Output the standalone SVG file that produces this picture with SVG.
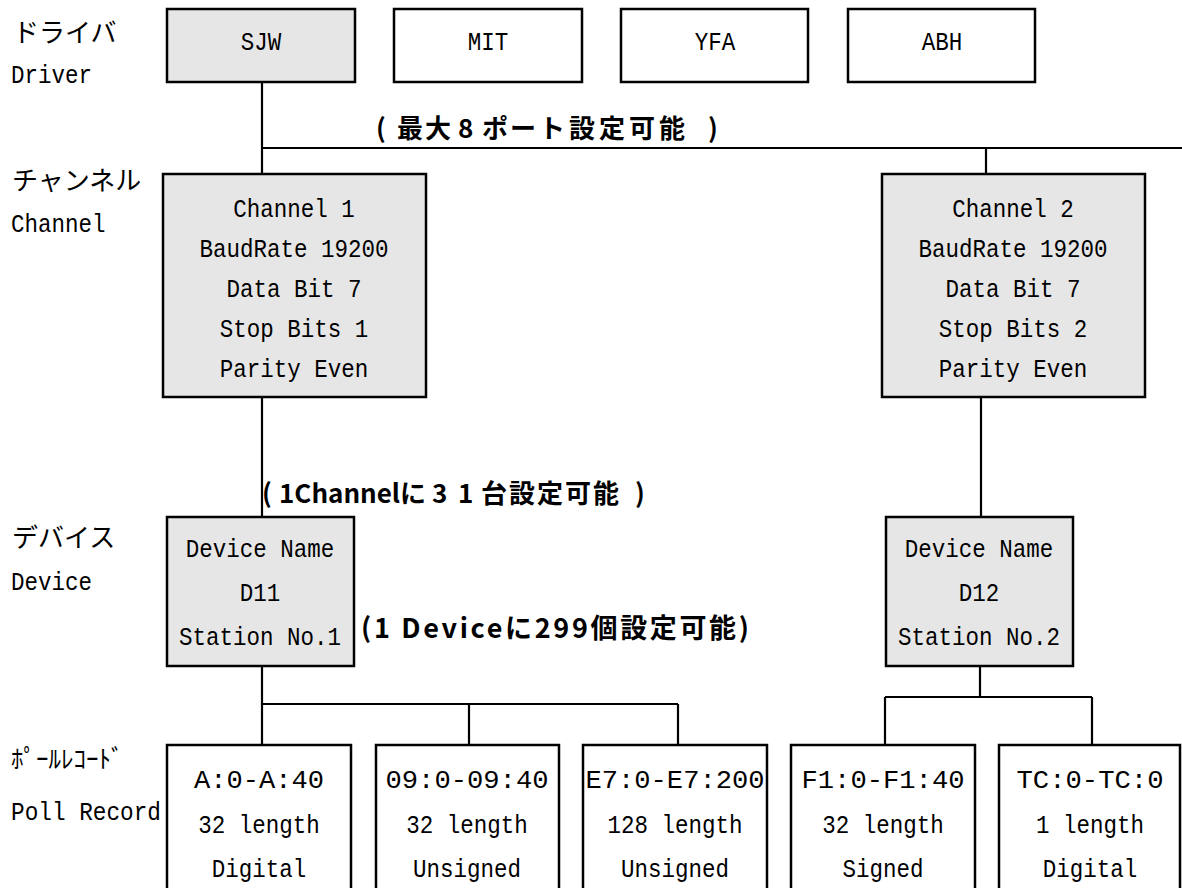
<svg xmlns="http://www.w3.org/2000/svg" width="1182" height="888" viewBox="0 0 1182 888">
<style>
.g{fill:#e6e6e6;stroke:#000;stroke-width:2.5}
.w{fill:#fff;stroke:#000;stroke-width:2.5}
.ln{fill:none;stroke:#000;stroke-width:2.2}
.t{font-family:"Liberation Mono","DejaVu Sans Mono",monospace;font-size:26px;fill:#000;text-anchor:middle}
.l{font-family:"Liberation Mono","DejaVu Sans Mono",monospace;font-size:26px;fill:#000}
.jp{font-family:"Noto Sans CJK JP",sans-serif;font-size:26px;fill:#000}
.b{font-family:"Noto Sans CJK JP",sans-serif;font-weight:bold;font-size:26px;fill:#000}
</style>
<rect width="1182" height="888" fill="#fff"/>
<g id="connectors">
<path class="ln" d="M262 82V174M262 148H1182M986 148V174M262 397V517M981 397V517M262 666V745M262 704H678M469 704V745M678 704V745M980 666V697M885 697H1092M885 697V745M1092 697V745"/>
</g>
<g id="level-labels">
<text class="jp" x="13" y="42">ドライバ</text>
<text class="l" x="11" y="83" textLength="81" lengthAdjust="spacingAndGlyphs">Driver</text>
<text class="jp" x="12" y="190">チャンネル</text>
<text class="l" x="11" y="232" textLength="94.5" lengthAdjust="spacingAndGlyphs">Channel</text>
<text class="jp" x="12" y="547">デバイス</text>
<text class="l" x="11" y="590" textLength="81" lengthAdjust="spacingAndGlyphs">Device</text>
<text class="jp" x="11" y="768" style="font-size:25px">ﾎﾟｰﾙﾚｺｰﾄﾞ</text>
<text class="l" x="11" y="820" textLength="150" lengthAdjust="spacingAndGlyphs">Poll Record</text>
</g>
<g id="notes">
<text class="b" x="376 397 425 458 482 510 539 569 599 629 659 708" y="138">(最大8ポート設定可能)</text>
<text class="b" y="503"><tspan x="262">(</tspan><tspan x="279">1Channel</tspan><tspan x="400 432 458 481 509 537 565 593 635">に31台設定可能)</tspan></text>
<text class="b" x="361" y="638" style="font-size:27px" textLength="388" lengthAdjust="spacing">(1 Deviceに299個設定可能)</text>
</g>
<g id="driver-SJW"><rect class="g" x="167" y="9" width="188" height="73"/><text class="t" x="261" y="50" textLength="40.5" lengthAdjust="spacingAndGlyphs">SJW</text></g>
<g id="driver-MIT"><rect class="w" x="394" y="9" width="188" height="73"/><text class="t" x="488" y="50" textLength="40.5" lengthAdjust="spacingAndGlyphs">MIT</text></g>
<g id="driver-YFA"><rect class="w" x="621" y="9" width="187" height="73"/><text class="t" x="715" y="50" textLength="40.5" lengthAdjust="spacingAndGlyphs">YFA</text></g>
<g id="driver-ABH"><rect class="w" x="848" y="9" width="187" height="73"/><text class="t" x="942" y="50" textLength="40.5" lengthAdjust="spacingAndGlyphs">ABH</text></g>
<g id="channel-1"><rect class="g" x="163" y="174" width="263" height="223"/>
<text class="t" x="294" y="217" textLength="121.5" lengthAdjust="spacingAndGlyphs">Channel 1</text>
<text class="t" x="294" y="257" textLength="189" lengthAdjust="spacingAndGlyphs">BaudRate 19200</text>
<text class="t" x="294" y="297" textLength="135" lengthAdjust="spacingAndGlyphs">Data Bit 7</text>
<text class="t" x="294" y="337" textLength="148.5" lengthAdjust="spacingAndGlyphs">Stop Bits 1</text>
<text class="t" x="294" y="377" textLength="148.5" lengthAdjust="spacingAndGlyphs">Parity Even</text></g>
<g id="channel-2"><rect class="g" x="882" y="174" width="263" height="223"/>
<text class="t" x="1013" y="217" textLength="121.5" lengthAdjust="spacingAndGlyphs">Channel 2</text>
<text class="t" x="1013" y="257" textLength="189" lengthAdjust="spacingAndGlyphs">BaudRate 19200</text>
<text class="t" x="1013" y="297" textLength="135" lengthAdjust="spacingAndGlyphs">Data Bit 7</text>
<text class="t" x="1013" y="337" textLength="148.5" lengthAdjust="spacingAndGlyphs">Stop Bits 2</text>
<text class="t" x="1013" y="377" textLength="148.5" lengthAdjust="spacingAndGlyphs">Parity Even</text></g>
<g id="device-D11"><rect class="g" x="167" y="517" width="187" height="149"/>
<text class="t" x="260" y="557" textLength="148.5" lengthAdjust="spacingAndGlyphs">Device Name</text>
<text class="t" x="260" y="601" textLength="40.5" lengthAdjust="spacingAndGlyphs">D11</text>
<text class="t" x="260" y="645" textLength="162" lengthAdjust="spacingAndGlyphs">Station No.1</text></g>
<g id="device-D12"><rect class="g" x="886" y="517" width="187" height="149"/>
<text class="t" x="979" y="557" textLength="148.5" lengthAdjust="spacingAndGlyphs">Device Name</text>
<text class="t" x="979" y="601" textLength="40.5" lengthAdjust="spacingAndGlyphs">D12</text>
<text class="t" x="979" y="645" textLength="162" lengthAdjust="spacingAndGlyphs">Station No.2</text></g>
<g id="poll-A"><rect class="w" x="167" y="745" width="184" height="160"/>
<text class="t" x="259" y="788" textLength="130" lengthAdjust="spacingAndGlyphs">A:0-A:40</text>
<text class="t" x="259" y="833" textLength="121.5" lengthAdjust="spacingAndGlyphs">32 length</text>
<text class="t" x="259" y="877" textLength="94.5" lengthAdjust="spacingAndGlyphs">Digital</text></g>
<g id="poll-09"><rect class="w" x="376" y="745" width="183" height="160"/>
<text class="t" x="467" y="788" textLength="163" lengthAdjust="spacingAndGlyphs">09:0-09:40</text>
<text class="t" x="467" y="833" textLength="121.5" lengthAdjust="spacingAndGlyphs">32 length</text>
<text class="t" x="467" y="877" textLength="108" lengthAdjust="spacingAndGlyphs">Unsigned</text></g>
<g id="poll-E7"><rect class="w" x="583" y="745" width="184" height="160"/>
<text class="t" x="675" y="788" textLength="179" lengthAdjust="spacingAndGlyphs">E7:0-E7:200</text>
<text class="t" x="675" y="833" textLength="135" lengthAdjust="spacingAndGlyphs">128 length</text>
<text class="t" x="675" y="877" textLength="108" lengthAdjust="spacingAndGlyphs">Unsigned</text></g>
<g id="poll-F1"><rect class="w" x="791" y="745" width="184" height="160"/>
<text class="t" x="883" y="788" textLength="163" lengthAdjust="spacingAndGlyphs">F1:0-F1:40</text>
<text class="t" x="883" y="833" textLength="121.5" lengthAdjust="spacingAndGlyphs">32 length</text>
<text class="t" x="883" y="877" textLength="81" lengthAdjust="spacingAndGlyphs">Signed</text></g>
<g id="poll-TC"><rect class="w" x="999" y="745" width="181" height="160"/>
<text class="t" x="1090" y="788" textLength="147" lengthAdjust="spacingAndGlyphs">TC:0-TC:0</text>
<text class="t" x="1090" y="833" textLength="108" lengthAdjust="spacingAndGlyphs">1 length</text>
<text class="t" x="1090" y="877" textLength="94.5" lengthAdjust="spacingAndGlyphs">Digital</text></g>
</svg>
